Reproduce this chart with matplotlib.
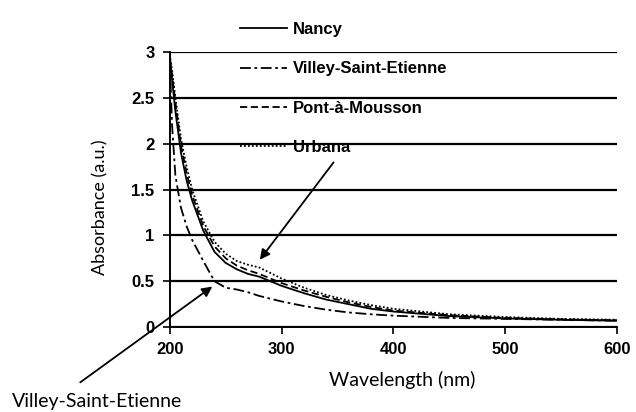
import matplotlib
matplotlib.use("Agg")
import matplotlib.pyplot as plt

# --- data ---
wavelength = [200, 202, 205, 210, 215, 220, 230, 240, 250, 260, 270, 280, 290,
              300, 320, 340, 360, 380, 400, 450, 500, 550, 600]
nancy = [2.95, 2.70, 2.35, 1.90, 1.60, 1.38, 1.05, 0.82, 0.70, 0.63, 0.58, 0.55, 0.50,
         0.45, 0.37, 0.30, 0.25, 0.20, 0.17, 0.12, 0.095, 0.08, 0.07]
villey = [2.90, 2.20, 1.65, 1.30, 1.10, 0.95, 0.72, 0.50, 0.43, 0.41, 0.38, 0.34, 0.31,
          0.28, 0.23, 0.19, 0.16, 0.14, 0.125, 0.10, 0.09, 0.08, 0.07]
pont = [2.92, 2.75, 2.45, 1.98, 1.68, 1.44, 1.10, 0.88, 0.75, 0.67, 0.62, 0.58, 0.53,
        0.48, 0.40, 0.33, 0.27, 0.22, 0.18, 0.13, 0.10, 0.085, 0.075]
urbana = [2.97, 2.80, 2.50, 2.05, 1.75, 1.50, 1.15, 0.93, 0.80, 0.72, 0.68, 0.65, 0.59,
          0.53, 0.43, 0.35, 0.29, 0.24, 0.20, 0.14, 0.11, 0.09, 0.08]

series = [("Nancy", nancy, "-"),
          ("Villey-Saint-Etienne", villey, (0, (6, 2, 1.5, 2))),
          ("Pont-à-Mousson", pont, (0, (4, 2))),
          ("Urbana", urbana, (0, (1, 1.2)))]

fig = plt.figure(figsize=(6.36, 4.12), dpi=100)
ax = fig.add_axes([0.267, 0.206, 0.703, 0.668])

for name, vals, ls in series:
    ax.plot(wavelength, vals, color="black", lw=1.3, linestyle=ls, label=name)

ax.set_xlim(200, 600)
ax.set_ylim(0, 3)
ax.set_xticks([200, 300, 400, 500, 600])
ax.set_yticks([0, 0.5, 1, 1.5, 2, 2.5, 3])
ax.set_yticklabels(["0", "0.5", "1", "1.5", "2", "2.5", "3"])
ax.yaxis.grid(True, color="black", lw=1.6)
ax.set_axisbelow(True)
for s in ["top", "right"]:
    ax.spines[s].set_visible(False)
ax.spines["left"].set_linewidth(1.4)
ax.spines["bottom"].set_linewidth(1.4)
ax.tick_params(axis="both", direction="out", length=5, width=1.2, pad=6)
for lab in ax.get_xticklabels() + ax.get_yticklabels():
    lab.set_fontfamily("Liberation Sans")
    lab.set_fontweight("bold")
    lab.set_fontsize(12)

# axis titles placed by hand, as in the reference
fig.text(402 / 636, 1 - 380 / 412, "Wavelength (nm)", family="Lato",
         fontsize=14, ha="center", va="center")
fig.text(100 / 636, 1 - 207 / 412, "Absorbance (a.u.)", family="Lato",
         fontsize=13, ha="center", va="center", rotation=90)

leg = ax.legend(loc="upper left", bbox_to_anchor=(232 / 636, 1 - 14 / 412),
                bbox_transform=fig.transFigure, frameon=False, borderpad=0,
                prop={"family": "Liberation Sans", "size": 12, "weight": "bold"},
                handlelength=2.8, handletextpad=0.35, labelspacing=1.45)

# arrows pointing to Urbana and Villey-Saint-Etienne
ax.annotate("", xy=(279, 0.71), xytext=(348, 1.82),
            arrowprops=dict(arrowstyle="-|>", color="black", lw=1.3,
                            mutation_scale=15))
ax.annotate("", xy=(240, 0.46), xytext=(78 / 636, 1 - 384 / 412),
            textcoords="figure fraction", annotation_clip=False,
            arrowprops=dict(arrowstyle="-|>", color="black", lw=1.3,
                            mutation_scale=15))
fig.text(12 / 636, 1 - 401 / 412, "Villey-Saint-Etienne", family="Lato",
         fontsize=14, ha="left", va="center")

fig.savefig("out.png", dpi=100)
